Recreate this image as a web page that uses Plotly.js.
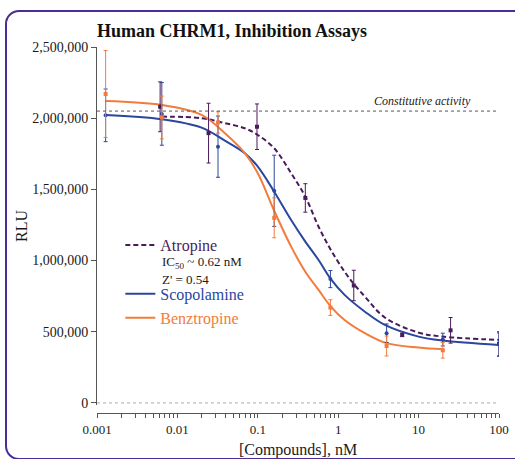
<!DOCTYPE html>
<html>
<head>
<meta charset="utf-8">
<script src="https://cdn.plot.ly/plotly-3.0.1.min.js"></script>
<style>
  html, body { margin: 0; padding: 0; background: #fff; }
  #wrap { position: relative; width: 515px; height: 459px; overflow: hidden; }
  #frame { position: absolute; left: 5px; top: 10px; width: 520px; height: 446px;
           border: 2px solid #4a2d96; border-radius: 14px; pointer-events: none; }
  #chart { position: absolute; left: 0; top: 0; width: 515px; height: 459px; }
</style>
</head>
<body>
<div id="wrap"><div id="chart"></div><div id="frame"></div></div>
<script>
// ---- Data ----
const scopConc = [0.00128, 0.0064, 0.032, 0.16, 0.8, 4, 20, 100];
const scopMean = [2020000, 2030000, 1800000, 1490000, 870000, 490000, 445000, 410000];
const scopErr  = [185000, 220000, 215000, 250000, 60000, 65000, 45000, 82000];

const benzConc = [0.00128, 0.0064, 0.032, 0.16, 0.8, 4, 20];
const benzMean = [2170000, 2005000, 1970000, 1300000, 670000, 400000, 370000];
const benzErr  = [305000, 150000, 75000, 140000, 55000, 70000, 55000];

const atroConc = [0.0061, 0.0244, 0.0977, 0.39, 1.5625, 6.25, 25, 100];
const atroMean = [2080000, 1895000, 1940000, 1440000, 825000, 478000, 510000, 415000];
const atroErr  = [175000, 210000, 160000, 100000, 107000, 12000, 90000, 85000];

// Fitted curves
const scopCurveX = [0.00128, 0.0064, 0.02, 0.039, 0.069, 0.1, 0.16, 0.26, 0.39, 0.57, 0.81, 1.2, 2.15, 3.8, 10, 20, 100];
const scopCurveY = [2023000, 1993000, 1934000, 1842000, 1754000, 1660000, 1484000, 1285000, 1133000, 1004000, 869000, 759000, 641000, 548000, 466000, 438000, 407000];

const benzCurveX = [0.00128, 0.0064, 0.02, 0.039, 0.069, 0.1, 0.16, 0.26, 0.39, 0.57, 0.81, 1.2, 2.15, 4, 10, 20];
const benzCurveY = [2121000, 2093000, 2023000, 1894000, 1754000, 1613000, 1350000, 1098000, 922000, 794000, 677000, 583000, 490000, 420000, 389000, 377000];

const atroCurveX = [0.0064, 0.02, 0.039, 0.069, 0.1, 0.16, 0.26, 0.39, 0.57, 0.81, 1.2, 1.6, 2.15, 3.8, 10, 20, 100];
const atroCurveY = [2011000, 2000000, 1965000, 1929000, 1882000, 1789000, 1613000, 1449000, 1238000, 1075000, 922000, 829000, 747000, 600000, 494000, 466000, 443000];

const constitutive = 2050000;
const xTickVals = [0.001, 0.01, 0.1, 1, 10, 100];
const xTickText = ['0.001', '0.01', '0.1', '1', '10', '100'];
const xMinorVals = [0.002, 0.003, 0.004, 0.005, 0.006, 0.007, 0.008, 0.009,
                    0.02, 0.03, 0.04, 0.05, 0.06, 0.07, 0.08, 0.09,
                    0.2, 0.3, 0.4, 0.5, 0.6, 0.7, 0.8, 0.9,
                    2, 3, 4, 5, 6, 7, 8, 9,
                    20, 30, 40, 50, 60, 70, 80, 90];
const yTickVals = [0, 500000, 1000000, 1500000, 2000000, 2500000];

const BLUE = '#2b469e', ORANGE = '#f27c3b', PURPLE = '#4a1b5b';
const SERIF = 'Liberation Serif, Times New Roman, serif';

// all tick positions (minor ones unlabeled) on the main axis
const allTickVals = xTickVals.concat(xMinorVals);
const allTickText = xTickText.concat(xMinorVals.map(() => ''));

const traces = [
  { x: atroCurveX, y: atroCurveY, mode: 'lines', line: {color: PURPLE, width: 2, dash: '5px,3px', shape: 'spline'},
    name: '<span style="color:' + PURPLE + '">Atropine</span>', legendgroup: 'a' },
  { x: scopCurveX, y: scopCurveY, mode: 'lines', line: {color: BLUE, width: 2, shape: 'spline'},
    name: '<span style="color:' + BLUE + '">Scopolamine</span>', legendgroup: 'b' },
  { x: benzCurveX, y: benzCurveY, mode: 'lines', line: {color: ORANGE, width: 2, shape: 'spline'},
    name: '<span style="color:' + ORANGE + '">Benztropine</span>', legendgroup: 'b' },
  { x: atroConc, y: atroMean, mode: 'markers', showlegend: false,
    marker: {color: PURPLE, size: 4, symbol: 'square'},
    error_y: {type: 'data', array: atroErr, color: PURPLE, thickness: 1, width: 2} },
  { x: scopConc, y: scopMean, mode: 'markers', showlegend: false,
    marker: {color: BLUE, size: 4, symbol: 'circle'},
    error_y: {type: 'data', array: scopErr, color: BLUE, thickness: 1, width: 2} },
  { x: benzConc, y: benzMean, mode: 'markers', showlegend: false,
    marker: {color: ORANGE, size: 4, symbol: 'square'},
    error_y: {type: 'data', array: benzErr, color: ORANGE, thickness: 1, width: 2} }
];

const layout = {
  width: 515, height: 459,
  margin: {l: 97, r: 16, t: 47, b: 46},
  paper_bgcolor: '#fff', plot_bgcolor: '#fff',
  font: {family: SERIF, color: '#1a1a1a'},
  title: {text: '<b>Human CHRM1, Inhibition Assays</b>', font: {family: SERIF, size: 18, color: '#111'},
          xref: 'paper', x: 0, xanchor: 'left', yref: 'container', y: 1 - 31/459, yanchor: 'middle'},
  showlegend: true,
  legend: {x: 0.058, xanchor: 'left', y: 0.505, yanchor: 'top', bgcolor: 'rgba(0,0,0,0)',
           font: {family: SERIF, size: 16}, traceorder: 'grouped', tracegroupgap: 25,
           itemwidth: 30, valign: 'middle'},
  xaxis: {type: 'log', range: [-3, 2], anchor: 'free', position: 0,
          tickmode: 'array', tickvals: allTickVals, ticktext: allTickText, ticks: 'outside', ticklen: 4, tickwidth: 1, tickcolor: '#555',
          showline: true, linecolor: '#555', linewidth: 1, showgrid: false, zeroline: false,
          tickfont: {family: SERIF, size: 13, color: '#1a1a1a'},
          title: {text: '[Compounds], nM', font: {family: SERIF, size: 16, color: '#1a1a1a'}, standoff: 8}},
  yaxis: {range: [-14000, 2500000], domain: [0.022, 1],
          tickvals: yTickVals, tickformat: ',', ticks: 'outside', ticklen: 5, tickwidth: 1, tickcolor: '#555',
          showline: true, linecolor: '#555', linewidth: 1, showgrid: false, zeroline: false,
          tickfont: {family: SERIF, size: 14, color: '#1a1a1a'},
          title: {text: 'RLU', font: {family: SERIF, size: 16, color: '#1a1a1a'}, standoff: 0}},
  shapes: [
    {type: 'line', xref: 'paper', x0: 0, x1: 1, yref: 'y', y0: constitutive, y1: constitutive,
     line: {color: '#555', width: 1, dash: 'dot'}},
    {type: 'line', xref: 'paper', x0: 0, x1: 1, yref: 'y', y0: 0, y1: 0,
     line: {color: '#aaa', width: 1, dash: 'dot'}}
  ],
  annotations: [
    {text: '<i>Constitutive activity</i>', xref: 'paper', x: 0.935, xanchor: 'right',
     yref: 'y', y: constitutive, yanchor: 'bottom', yshift: 1, showarrow: false,
     font: {family: SERIF, size: 12, color: '#1a1a1a'}},
    {text: 'IC<sub>50</sub> ~ 0.62 nM', xref: 'paper', x: 0.157, xanchor: 'left',
     yref: 'paper', y: (413 - 262) / 366, yanchor: 'middle', showarrow: false,
     font: {family: SERIF, size: 13, color: '#1a1a1a'}},
    {text: "Z' = 0.54", xref: 'paper', x: 0.157, xanchor: 'left',
     yref: 'paper', y: (413 - 279) / 366, yanchor: 'middle', showarrow: false,
     font: {family: SERIF, size: 13, color: '#1a1a1a'}}
  ]
};

Plotly.newPlot('chart', traces, layout, {displayModeBar: false, staticPlot: true});
</script>
</body>
</html>
